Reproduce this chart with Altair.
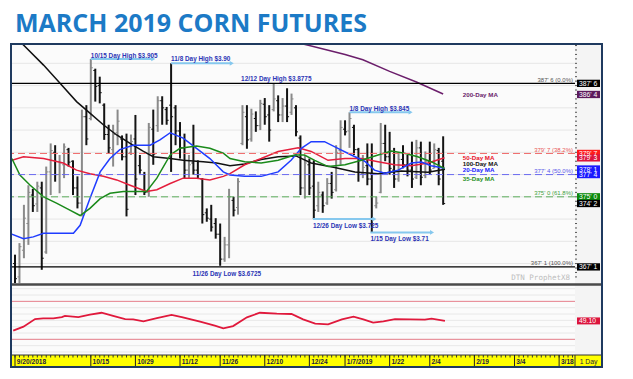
import altair as alt
import pandas as pd

TITLE = "MARCH 2019 CORN FUTURES"

# ---- daily OHLC bars, index 0 = 9/20/2018 ... index 96 = 2/7/2019 (cents/bu) ----
bar_open = [367.5, 366.0, 369.0, 372.0, 375.2, 374.2, 376.0, 368.8, 377.8, 380.0,
            377.5, 378.6, 380.3, 379.0, 376.0, 374.3, 384.0, 383.8, 389.2, 387.5,
            385.3, 382.0, 380.3, 382.2, 381.5, 379.5, 380.0, 381.5, 378.5, 377.5,
            375.5, 382.6, 383.0, 385.8, 384.8, 385.3, 385.0, 382.4, 380.5, 378.0,
            378.8, 378.0, 377.0, 373.2, 372.5, 372.0, 370.8, 368.0, 369.6, 374.6,
            373.8, 381.0, 384.0, 381.5, 383.8, 383.0, 385.4, 384.2, 384.8, 385.8,
            384.2, 385.2, 384.5, 385.0, 381.6, 376.0, 378.6, 376.2, 374.0, 375.2,
            374.3, 376.5, 375.8, 380.2, 382.6, 382.4, 382.8, 380.3, 377.6, 378.5,
            377.0, 374.0, 375.5, 381.0, 379.5, 378.0, 377.0, 379.2, 378.6, 378.0,
            377.2, 380.5, 377.4, 379.0, 378.2, 380.2, 379.0]
bar_high = [368.5, 369.8, 374.1, 376.3, 375.9, 376.7, 376.7, 378.4, 381.0, 380.8,
            379.7, 381.0, 380.5, 379.1, 377.3, 384.8, 385.3, 390.5, 389.4, 388.5,
            385.5, 383.1, 383.1, 384.8, 381.9, 382.1, 382.0, 384.2, 379.7, 377.8,
            383.3, 384.8, 386.3, 386.3, 385.1, 390.0, 385.3, 383.4, 382.1, 379.7,
            383.1, 379.1, 377.1, 373.7, 374.1, 372.6, 372.0, 370.5, 375.9, 375.0,
            377.1, 385.3, 385.3, 384.9, 384.6, 385.9, 386.1, 385.3, 387.75, 386.4,
            386.1, 387.2, 386.6, 385.3, 381.9, 379.7, 379.3, 379.1, 376.7, 375.6,
            377.1, 377.8, 380.8, 383.6, 383.6, 384.5, 383.1, 380.5, 379.7, 381.0,
            381.0, 375.0, 383.3, 383.1, 382.3, 380.5, 380.0, 380.8, 379.7, 381.2,
            381.4, 381.2, 380.1, 381.2, 381.0, 380.5, 381.8]
bar_low = [365.3, 365.3, 368.1, 369.6, 373.3, 373.3, 366.8, 368.6, 375.2, 376.7,
           375.4, 377.1, 378.4, 375.2, 373.7, 372.8, 380.8, 383.6, 385.7, 385.5,
           381.4, 379.9, 378.4, 380.8, 379.1, 372.8, 379.7, 375.2, 377.6, 375.2,
           375.0, 378.6, 382.3, 383.1, 383.1, 377.8, 380.8, 379.3, 377.1, 377.1,
           377.5, 377.1, 372.0, 372.2, 371.1, 370.3, 367.25, 367.7, 368.1, 372.8,
           373.0, 380.8, 380.4, 381.2, 382.3, 382.5, 383.1, 381.2, 384.6, 383.4,
           383.4, 383.4, 384.2, 381.8, 375.2, 374.8, 375.2, 372.5, 373.3, 373.2,
           374.1, 374.8, 375.6, 378.6, 381.9, 380.5, 379.7, 376.7, 377.1, 376.3,
           371.0, 373.7, 375.4, 379.0, 377.5, 376.0, 376.7, 378.2, 377.3, 376.0,
           377.0, 376.3, 377.1, 377.5, 378.2, 376.3, 374.1]
bar_close = [365.8, 369.4, 372.6, 375.5, 374.0, 376.2, 368.1, 377.8, 380.2, 377.5,
             378.8, 380.6, 378.9, 376.0, 374.3, 384.0, 381.5, 389.5, 387.4, 386.7,
             382.0, 380.5, 382.0, 383.5, 379.5, 373.6, 381.2, 377.0, 378.0, 375.5,
             382.8, 379.8, 385.8, 385.0, 383.6, 384.0, 382.4, 380.5, 378.0, 378.6,
             378.0, 377.5, 373.0, 372.6, 371.6, 370.8, 368.0, 369.6, 375.0, 373.5,
             376.7, 384.5, 381.4, 384.3, 383.0, 385.5, 384.0, 382.5, 386.0, 384.2,
             385.2, 384.0, 386.0, 382.3, 376.0, 378.8, 376.0, 373.5, 375.5, 374.0,
             376.5, 375.5, 380.0, 382.8, 382.3, 383.8, 380.3, 377.5, 378.3, 377.0,
             372.5, 374.3, 381.0, 379.5, 378.2, 377.0, 379.2, 378.6, 378.0, 377.0,
             380.5, 377.2, 379.0, 378.0, 380.3, 377.0, 374.25]

# ---- moving averages (bar index, value) ----
ma200_i = [63.5, 66, 70, 74, 78, 84, 90, 96]
ma200_v = [392.3, 392.0, 391.5, 391.0, 390.4, 389.1, 387.9, 386.55]
ma100_i = [-0.7, 1.9, 6.4, 10.1, 13.8, 16.8, 19.8, 22.8, 25.8, 28.8, 31, 34.8, 37.7, 42.2,
           45.2, 48.2, 51.5, 55.2, 59, 63, 66.4, 71.7, 76.2, 81.4, 86.6, 92.6, 96.4]
ma100_v = [393.2, 392.06, 389.8, 387.75, 385.7, 384.4, 383.1, 381.95, 381.0, 380.1, 379.5,
           379.3, 379.1, 378.95, 378.8, 378.5, 378.7, 379.2, 379.5, 379.6, 378.8, 378.3,
           377.8, 377.6, 377.9, 377.75, 378.1]
ma50_i = [-0.7, 1.9, 6.4, 10.8, 13.8, 16.8, 19.8, 22.8, 25.8, 29.5, 31.8, 34.8, 37.7, 40.7,
          43.7, 46.7, 48.2, 51.5, 55.2, 59, 63.5, 66.4, 70.2, 74, 77.7, 81.4, 85.1, 88.9,
          92.6, 96.3]
ma50_v = [379.1, 379.5, 379.3, 378.8, 378.0, 377.6, 377.3, 376.9, 376.3, 375.6, 375.8,
          376.5, 377.1, 377.1, 376.9, 377.3, 377.6, 378.6, 379.3, 380.1, 380.5, 380.1,
          379.1, 379.3, 379.3, 378.95, 378.6, 378.5, 378.8, 379.4]
ma20_i = [-0.7, 1.9, 4.1, 6.4, 10.1, 13.1, 14.6, 16.8, 19.1, 21.3, 23.5, 26.5, 30.3, 32.5,
          34.8, 37.7, 40.7, 43.7, 46.7, 48.2, 51.5, 55.2, 59, 61.9, 64.2, 66.4, 69.4, 72.4,
          75.4, 78.4, 80.6, 82.9, 85.9, 88.9, 91.1, 93.3, 96.3]
ma20_v = [370.8, 370.3, 370.5, 370.9, 370.9, 370.9, 371.8, 374.8, 377.8, 379.3, 380.3,
          380.8, 380.8, 381.4, 382.2, 381.6, 380.45, 379.3, 377.8, 377.45, 377.3, 377.3,
          377.8, 379.1, 380.45, 381.2, 381.2, 380.45, 379.7, 379.0, 378.0, 377.64, 378.0,
          378.8, 378.9, 378.5, 378.2]
ma35_i = [-0.7, 1.1, 3.4, 6.4, 9.3, 12.3, 14.6, 16.8, 19.1, 21.3, 24.3, 27.3, 29.5, 31.8,
          34.8, 37, 40.7, 43.7, 46.7, 48.2, 51.5, 55.2, 59, 62.7, 64.9, 67.2, 70.2, 74,
          77.7, 81.4, 84.4, 87.3, 90.3, 93.3, 96.3]
ma35_v = [379.3, 377.45, 376.3, 375.0, 374.3, 373.5, 372.9, 373.7, 374.8, 375.4, 375.6,
          375.6, 375.6, 377.1, 379.7, 380.45, 380.7, 380.45, 379.9, 379.3, 378.95, 378.8,
          379.1, 379.7, 379.7, 379.1, 378.4, 378.6, 379.1, 379.7, 380.15, 379.9, 379.5,
          378.95, 378.2]

# ---- RSI ----
rsi_i = [-0.4, 1.9, 4.5, 6.3, 8.6, 10.5, 11.2, 14.2, 16.8, 19.4, 22.0, 24.7, 26.5, 28.8,
         31.8, 35.1, 37.4, 41.5, 44.8, 46.7, 48.9, 52.0, 54.9, 58.7, 62.0, 64.6, 67.3,
         70.2, 73.3, 75.9, 78.1, 80.3, 82.6, 85.2, 88.6, 91.9, 93.4, 96.4]
rsi_v = [33.7, 40, 52, 53, 53, 55, 57, 55, 59, 62, 57, 52, 51.6, 48.5, 53.7, 58.5, 55, 48,
         41.6, 37.4, 41, 54.8, 62, 60.5, 60, 51.6, 44.7, 43.7, 51.6, 55.8, 51.6, 46.3, 48.5,
         52, 51.6, 51, 52.6, 49.1]

# ---- date axis ----
date_idx = [0, 17, 27, 37, 46, 56, 66, 74, 84, 93, 103, 112, 122]
date_lbl = ["9/20/2018", "10/15", "10/29", "11/12", "11/26", "12/10", "12/24", "1/7/2019",
            "1/22", "2/4", "2/19", "3/4", "3/18"]
grid_idx = [0, 7, 17, 27, 37, 46, 56, 66, 74, 84, 93, 103, 112, 122]

# ---- levels ----
price_grid = [367.5, 370.0, 372.5, 375.0, 377.5, 380.0, 382.5, 385.0, 387.5, 390.0]
price_labels = [370.0, 372.5, 382.5, 385.0, 390.0]
solid_levels = [387.75, 367.125]
fib_levels = [379.875, 377.5, 375.0]
fib_colors = ["#f06868", "#6a6af0", "#5cae5c"]
fib_lbl_text = ["387' 6 (0.0%)", "379' 7 (38.2%)", "377' 4 (50.0%)", "375' 0 (61.8%)", "367' 1 (100.0%)"]
fib_lbl_val = [387.75, 379.875, 377.5, 375.0, 367.125]
fib_lbl_col = ["#555555", "#e85858", "#5a5ae8", "#3f9f3f", "#555555"]

tag_text = ["387' 6", "386' 4", "379' 7", "379' 3", "378' 1", "377' 4", "375' 0", "374' 2", "367' 1"]
tag_val = [387.75, 386.5, 379.875, 379.375, 378.125, 377.5, 375.0, 374.25, 367.125]
tag_col = ["#000000", "#5c1a5c", "#ff1a1a", "#dc143c", "#1a1aff", "#1a1aff", "#0a8a0a", "#000000", "#000000"]

ann_text = ["10/15 Day High $3.905", "11/8 Day High $3.90", "12/12 Day High $3.8775",
            "1/8 Day High $3.845", "12/26 Day Low $3.725", "1/15 Day Low $3.71",
            "11/26 Day Low $3.6725"]
ann_x = [17.0, 35.0, 50.7, 75.0, 66.8, 79.7, 39.8]
ann_y = [390.65, 390.26, 388.0, 384.64, 371.46, 370.03, 366.13]
arrow_x1 = [17.0, 35.0, 75.0, 66.8, 79.7]
arrow_x2 = [31.0, 48.6, 88.7, 80.6, 93.5]
arrow_y = [390.5, 390.0, 384.5, 372.5, 371.0]

ma_lbl_text = ["200-Day MA", "50-Day MA", "100-Day MA", "20-Day MA", "35-Day MA"]
ma_lbl_val = [386.44, 379.4, 378.7, 378.0, 377.0]
ma_lbl_col = ["#6a1b6a", "#e8102a", "#111111", "#1a1aff", "#1f8f1f"]
ma_lbl_x = 100.4

rsi_grid = [0, 10, 20, 30, 40, 50, 60, 70, 80, 90, 100]
rsi_bands = [80, 20]

# ---------------------------------------------------------------------------
n = len(bar_open)
bars_df = pd.DataFrame({"i": list(range(n)), "o": bar_open, "h": bar_high,
                        "l": bar_low, "c": bar_close})
bars_df["ol"] = bars_df["i"] - 0.45
bars_df["cr"] = bars_df["i"] + 0.45
bars_df["col"] = ["#8a8a8a" if c >= o else "#141414" for o, c in zip(bar_open, bar_close)]

ma_rows = []
for name, ii, vv in [("200", ma200_i, ma200_v), ("100", ma100_i, ma100_v),
                     ("50", ma50_i, ma50_v), ("20", ma20_i, ma20_v), ("35", ma35_i, ma35_v)]:
    for a, b in zip(ii, vv):
        ma_rows.append({"ma": name, "i": a, "v": b})
ma_df = pd.DataFrame(ma_rows)

xs = alt.Scale(domain=[-0.673, 125.56], nice=False, zero=False)
ys = alt.Scale(domain=[355.99, 392.06], nice=False, zero=False)
rs = alt.Scale(domain=[-22.12, 485.0], nice=False, zero=False)

SANS = "Liberation Sans, Arial, sans-serif"
dummy = pd.DataFrame({"k": [0]})

price_axis = alt.Axis(orient="right", values=price_labels,
                      labelExpr="floor(datum.value) + \"' \" + round((datum.value - floor(datum.value)) * 8)",
                      grid=False, domain=True, domainColor="#4d4d4d", ticks=True,
                      tickColor="#4d4d4d", tickSize=3, labelFont=SANS,
                      labelFontSize=7, labelColor="#333333", labelPadding=3, title=None, zindex=1)
x_grid_axis = alt.Axis(values=grid_idx, grid=True, gridColor="#e0e0e0", labels=False,
                       ticks=False, domain=False, title=None)

col_bg = alt.Chart(dummy).mark_rect(color="#f4f4f4").encode(
    x=alt.value(563), x2=alt.value(589), y=alt.value(0), y2=alt.value(310))

pgrid = alt.Chart(pd.DataFrame({"v": price_grid})).mark_rule(color="#e6e6e6", strokeWidth=1).encode(
    y=alt.Y("v:Q", scale=ys, axis=None))

bars = alt.Chart(bars_df).mark_rule(strokeWidth=2).encode(
    x=alt.X("i:Q", scale=xs, axis=x_grid_axis),
    y=alt.Y("l:Q", scale=ys, axis=price_axis), y2="h:Q",
    color=alt.Color("col:N", scale=None))
oticks = alt.Chart(bars_df).mark_rule(strokeWidth=1).encode(
    x=alt.X("ol:Q", scale=xs, axis=None), x2="i:Q",
    y=alt.Y("o:Q", scale=ys, axis=None), color=alt.Color("col:N", scale=None))
cticks = alt.Chart(bars_df).mark_rule(strokeWidth=1).encode(
    x=alt.X("i:Q", scale=xs, axis=None), x2="cr:Q",
    y=alt.Y("c:Q", scale=ys, axis=None), color=alt.Color("col:N", scale=None))

ma_lines = alt.Chart(ma_df).mark_line(strokeWidth=1.5, clip=True).encode(
    x=alt.X("i:Q", scale=xs, axis=None),
    y=alt.Y("v:Q", scale=ys, axis=None),
    color=alt.Color("ma:N", legend=None,
                    scale=alt.Scale(domain=["200", "100", "50", "20", "35"],
                                    range=["#6b1e6b", "#111111", "#e41e3c", "#1f3cff", "#1a8a1a"])),
    detail="ma:N")

solid = alt.Chart(pd.DataFrame({"v": solid_levels})).mark_rule(color="#000000", strokeWidth=1.3).encode(
    y=alt.Y("v:Q", scale=ys, axis=None))
fibs = alt.Chart(pd.DataFrame({"v": fib_levels, "col": fib_colors})).mark_rule(
    strokeWidth=1, strokeDash=[7, 4]).encode(
    y=alt.Y("v:Q", scale=ys, axis=None), color=alt.Color("col:N", scale=None))

arr_df = pd.DataFrame({"x1": arrow_x1, "x2": arrow_x2, "y": arrow_y})
arrows = alt.Chart(arr_df).mark_rule(color="#86c8ee", strokeWidth=2).encode(
    x=alt.X("x1:Q", scale=xs, axis=None), x2="x2:Q", y=alt.Y("y:Q", scale=ys, axis=None))
heads = alt.Chart(arr_df).mark_point(shape="triangle-right", filled=True, size=22,
                                     color="#86c8ee", opacity=1).encode(
    x=alt.X("x2:Q", scale=xs, axis=None), y=alt.Y("y:Q", scale=ys, axis=None))

ann = alt.Chart(pd.DataFrame({"t": ann_text, "x": ann_x, "y": ann_y})).mark_text(
    align="left", baseline="alphabetic", font=SANS, fontWeight="bold", fontSize=6.4,
    color="#2b35b5").encode(
    x=alt.X("x:Q", scale=xs, axis=None), y=alt.Y("y:Q", scale=ys, axis=None), text="t:N")

ma_lbl = alt.Chart(pd.DataFrame({"t": ma_lbl_text, "v": ma_lbl_val, "col": ma_lbl_col,
                                 "x": [ma_lbl_x] * len(ma_lbl_text)})).mark_text(
    align="left", baseline="middle", font=SANS, fontWeight="bold", fontSize=6.2).encode(
    x=alt.X("x:Q", scale=xs, axis=None), y=alt.Y("v:Q", scale=ys, axis=None), text="t:N",
    color=alt.Color("col:N", scale=None))

fib_lbl = alt.Chart(pd.DataFrame({"t": fib_lbl_text, "v": fib_lbl_val, "col": fib_lbl_col})).mark_text(
    align="right", baseline="bottom", dy=-0.5, font=SANS, fontSize=6).encode(
    x=alt.value(561), y=alt.Y("v:Q", scale=ys, axis=None), text="t:N",
    color=alt.Color("col:N", scale=None))

minor_vals = [366.0 + 0.5 * k for k in range(53)]
minor = alt.Chart(pd.DataFrame({"v": minor_vals})).mark_rule(color="#555555", strokeWidth=1).encode(
    x=alt.value(563), x2=alt.value(565), y=alt.Y("v:Q", scale=ys, axis=None))

tag_df = pd.DataFrame({"t": tag_text, "v": tag_val, "col": tag_col})
tag_df["top"] = tag_df["v"] + 0.41
tag_df["bot"] = tag_df["v"] - 0.41
tag_rect = alt.Chart(tag_df).mark_rect().encode(
    x=alt.value(565), x2=alt.value(588),
    y=alt.Y("top:Q", scale=ys, axis=None), y2="bot:Q", color=alt.Color("col:N", scale=None))
tag_txt = alt.Chart(tag_df).mark_text(align="left", baseline="middle", font=SANS,
                                      fontSize=6.8, color="white", dy=0.5).encode(
    x=alt.value(567), y=alt.Y("v:Q", scale=ys, axis=None), text="t:N")

price_group = alt.layer(col_bg, pgrid, bars, oticks, cticks, ma_lines, solid, fibs, arrows, heads,
                        ann, ma_lbl, fib_lbl, minor, tag_rect, tag_txt)

# ---- RSI panel ----
rsi_df = pd.DataFrame({"i": rsi_i, "v": rsi_v})
rsi_axis = alt.Axis(orient="right", values=[10, 30, 70, 90], format=".2f", grid=False,
                    domain=False, ticks=True, tickSize=3, tickColor="#4d4d4d",
                    labelFont=SANS, labelFontSize=6.8, labelColor="#333333",
                    labelPadding=3, title=None, zindex=1)
rgrid = alt.Chart(pd.DataFrame({"v": rsi_grid})).mark_rule(color="#e8e8e8", strokeWidth=1).encode(
    y=alt.Y("v:Q", scale=rs, axis=None))
rbands = alt.Chart(pd.DataFrame({"v": rsi_bands})).mark_rule(color="#e8828f", strokeWidth=1).encode(
    y=alt.Y("v:Q", scale=rs, axis=None))
rline = alt.Chart(rsi_df).mark_line(color="#e0193c", strokeWidth=1.8).encode(
    x=alt.X("i:Q", scale=xs, axis=None), y=alt.Y("v:Q", scale=rs, axis=rsi_axis))
rtag_df = pd.DataFrame({"t": ["49.10"], "v": [rsi_v[-1]]})
rtag_df["top"] = rtag_df["v"] + 5.5
rtag_df["bot"] = rtag_df["v"] - 5.5
rtag = alt.Chart(rtag_df).mark_rect(color="#dc143c").encode(
    x=alt.value(565), x2=alt.value(588), y=alt.Y("top:Q", scale=rs, axis=None), y2="bot:Q")
rtag_t = alt.Chart(rtag_df).mark_text(align="left", baseline="middle", font=SANS,
                                      fontSize=6.8, color="white", dy=0.5).encode(
    x=alt.value(567), y=alt.Y("v:Q", scale=rs, axis=None), text="t:N")
rsi_group = alt.layer(rgrid, rbands, rline, rtag, rtag_t)

# ---- decorations: panel separator, date band, frame, title ----
sep = alt.Chart(dummy).mark_rect(color="#4a4a4a").encode(
    x=alt.value(-1), x2=alt.value(590), y=alt.value(238.3), y2=alt.value(240.8))
band = alt.Chart(dummy).mark_rect(color="#ffff00").encode(
    x=alt.value(0), x2=alt.value(589), y=alt.value(310), y2=alt.value(321))
band_top = alt.Chart(dummy).mark_rule(color="#333333", strokeWidth=1).encode(
    x=alt.value(0), x2=alt.value(589), y=alt.value(310))
band_div = alt.Chart(dummy).mark_rule(color="#333333", strokeWidth=1).encode(
    x=alt.value(563), y=alt.value(310), y2=alt.value(321))
dticks = alt.Chart(pd.DataFrame({"i": list(range(0, 126))})).mark_rule(
    color="#333333", strokeWidth=1).encode(
    x=alt.X("i:Q", scale=xs, axis=None), y=alt.value(310), y2=alt.value(312.5))
date_df = pd.DataFrame({"i": date_idx, "t": date_lbl})
dsep = alt.Chart(date_df).mark_rule(color="#222222", strokeWidth=1).encode(
    x=alt.X("i:Q", scale=xs, axis=None), y=alt.value(310), y2=alt.value(321))
dlbl = alt.Chart(date_df).mark_text(align="left", baseline="alphabetic", dx=1.8,
                                    font=SANS, fontWeight="bold", fontSize=6.6,
                                    color="#1c2240").encode(
    x=alt.X("i:Q", scale=xs, axis=None), y=alt.value(319), text="t:N")
oneday = alt.Chart(dummy).mark_text(align="center", baseline="alphabetic", font=SANS,
                                    fontSize=6.8, color="#1c2240", text="1 Day").encode(
    x=alt.value(576.5), y=alt.value(319))
frame = alt.Chart(dummy).mark_rect(fillOpacity=0, stroke="#1f3a5f", strokeWidth=2).encode(
    x=alt.value(-1), x2=alt.value(590), y=alt.value(-1), y2=alt.value(322))
title = alt.Chart(dummy).mark_text(align="left", baseline="alphabetic", font="Open Sans",
                                   fontWeight="bold", fontSize=25, color="#1c7ac6",
                                   text=TITLE).encode(x=alt.value(3), y=alt.value(-13.3))
wmark = alt.Chart(dummy).mark_text(align="right", baseline="middle", font="DejaVu Sans Mono",
                                   fontSize=7.5, color="#bdbdbd", text="DTN ProphetX8").encode(
    x=alt.value(558), y=alt.value(233))
deco = alt.layer(sep, band, band_top, band_div, dticks, dsep, dlbl, oneday, wmark, frame, title)

chart = alt.layer(price_group, rsi_group, deco).resolve_scale(y="independent").properties(
    width=563, height=321, autosize="none",
    padding={"left": 4, "top": 37, "right": 50, "bottom": 5},
    background="white",
).configure_view(stroke=None, fill="#fbfbfb")

chart.save("out.html", embed_options={"renderer": "svg", "actions": False})
